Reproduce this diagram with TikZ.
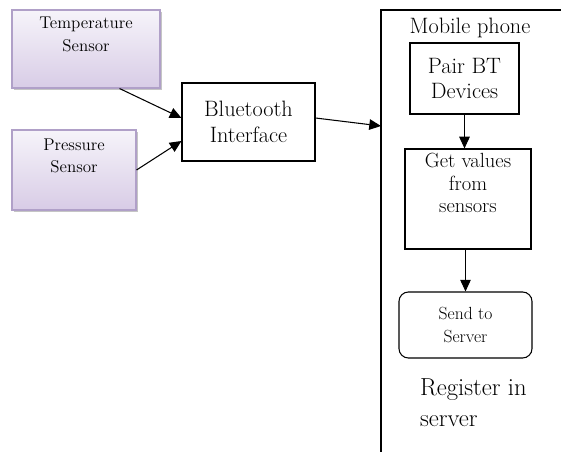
\documentclass[tikz,border=0pt]{standalone}
\usepackage{tikz}
\usetikzlibrary{arrows.meta,calc,shadows}

\definecolor{lavtop}{RGB}{246,244,250}
\definecolor{lavbot}{RGB}{216,204,230}
\definecolor{lavline}{RGB}{176,160,200}

\begin{document}
\begin{tikzpicture}[
      x=0.03cm, y=-0.03cm,
      sensor/.style={draw=lavline, line width=0.9pt, top color=lavtop, bottom color=lavbot,
        drop shadow={shadow xshift=2pt, shadow yshift=-2pt, fill=black!45},
        align=center, font=\fontsize{14.5}{19}\selectfont},
      block/.style={draw, rectangle, line width=0.9pt, align=center,
        font=\fontsize{19}{22}\selectfont},
      wire/.style={line width=0.9pt, -{Triangle[length=10pt,width=9pt]}}
    ]
      \useasboundingbox (0,0) rectangle (561,452);

      \node[sensor, minimum width=148*0.03cm, minimum height=78*0.03cm] (temp) at (86,49) {Temperature\\Sensor\\[6pt]};
      \node[sensor, minimum width=124*0.03cm, minimum height=80*0.03cm] (press) at (74,170) {Pressure\\Sensor\\[6pt]};
      \node[block, minimum width=133*0.03cm, minimum height=78*0.03cm] (bt) at (248.5,122) {Bluetooth\\Interface};

      % mobile phone frame
      \coordinate (phone) at (381,10);
      \coordinate (btin) at (381,126);
      \draw[line width=1pt] (381,452) -- (phone) -- (561,10);
      \node[font=\fontsize{19}{22}\selectfont] (mob) at (470,28) {Mobile phone};

      \node[block, minimum width=109*0.03cm, minimum height=71*0.03cm] (pair) at (464.5,78.5) {Pair BT\\Devices};
      \node[block, minimum width=126*0.03cm, minimum height=100*0.03cm, font=\fontsize{17.5}{19.5}\selectfont] (get) at (468,199) {Get values\\from\\sensors\\[8pt]};
      \node[block, rounded corners=8pt, minimum width=133*0.03cm, minimum height=66*0.03cm, font=\fontsize{15}{19}\selectfont] (send) at (465.5,325) {Send to\\Server};
      \node[anchor=north west, align=left, font=\fontsize{21}{26}\selectfont] (reg) at (416,375) {Register in\\server};

      \draw[wire] ($(temp.south east)+(-41,0)$) -- ($(bt.west)+(0,-4)$);
      \draw[wire] (press.east) -- ($(bt.west)+(0,19)$);
      \draw[wire] ($(bt.east)+(0,-4)$) -- (btin);
      \draw[wire] (pair.south) -- (pair.south |- get.north);
      \draw[wire] (send.north |- get.south) -- (send.north);
    \end{tikzpicture}
\end{document}
